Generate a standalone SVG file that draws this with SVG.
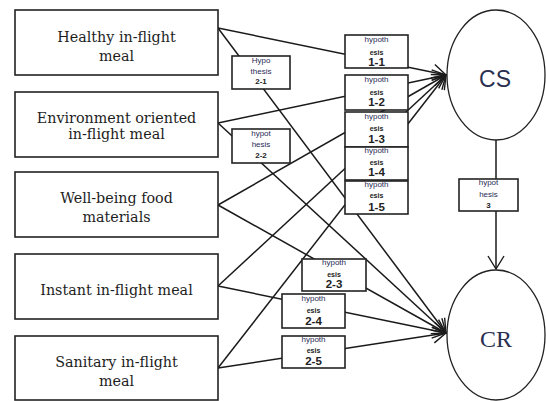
<svg xmlns="http://www.w3.org/2000/svg" width="546" height="401" viewBox="0 0 546 401">
<style>
.box{fill:#fff;stroke:#222;stroke-width:1.6}
.hb{fill:#fff;stroke:#222;stroke-width:1.6}
.lbl{font-family:"DejaVu Serif","Liberation Serif",serif;font-size:14.3px;fill:#1e1e1e;text-anchor:middle}
.s1{font-family:"Liberation Sans",Arial,sans-serif;font-size:8px;fill:#2a2a55;text-anchor:middle}
.s2{font-family:"Liberation Sans",Arial,sans-serif;font-size:7px;font-weight:bold;fill:#222;text-anchor:middle}
.s3{font-family:"Liberation Sans",Arial,sans-serif;font-size:11.5px;font-weight:bold;fill:#222;text-anchor:middle}
.s4{font-family:"Liberation Sans",Arial,sans-serif;font-size:8px;font-weight:bold;fill:#222;text-anchor:middle}
.conn line{stroke:#1a1a1a;stroke-width:1.5;fill:none;marker-end:url(#arr)}
.ell{fill:#fff;stroke:#222;stroke-width:1.3}
</style>
<defs>
<marker id="arr" markerUnits="userSpaceOnUse" markerWidth="20" markerHeight="22" viewBox="-1 -11 16 22" refX="13" refY="0" orient="auto">
<path d="M0,-8 L13,0 L0,8" fill="none" stroke="#1a1a1a" stroke-width="1.4"/>
</marker>
</defs>
<rect width="546" height="401" fill="#fff"/>
<g id="connectors" class="conn">
<line x1="218" y1="28" x2="446" y2="75"/>
<line x1="218" y1="28" x2="446" y2="333"/>
<line x1="218" y1="123" x2="446" y2="75"/>
<line x1="218" y1="123" x2="446" y2="333"/>
<line x1="218" y1="205" x2="446" y2="75"/>
<line x1="218" y1="205" x2="446" y2="333"/>
<line x1="218" y1="286" x2="446" y2="75"/>
<line x1="218" y1="286" x2="446" y2="333"/>
<line x1="218" y1="368" x2="446" y2="75"/>
<line x1="218" y1="368" x2="446" y2="333"/>
<line x1="496" y1="140" x2="496" y2="269"/>
</g>
<g id="healthy">
<rect class="box" x="15" y="10" width="203" height="65"/>
<text class="lbl" x="116.5" y="42">Healthy in-flight</text>
<text class="lbl" x="116.5" y="61">meal</text>
</g>
<g id="environment">
<rect class="box" x="15" y="92" width="203" height="65"/>
<text class="lbl" x="116.5" y="123">Environment oriented</text>
<text class="lbl" x="116.5" y="139">in-flight meal</text>
</g>
<g id="wellbeing">
<rect class="box" x="15" y="172" width="203" height="65"/>
<text class="lbl" x="116.5" y="203">Well-being food</text>
<text class="lbl" x="116.5" y="222">materials</text>
</g>
<g id="instant">
<rect class="box" x="15" y="254" width="203" height="65"/>
<text class="lbl" x="116.5" y="295">Instant in-flight meal</text>
</g>
<g id="sanitary">
<rect class="box" x="15" y="336" width="203" height="64"/>
<text class="lbl" x="116.5" y="367">Sanitary in-flight</text>
<text class="lbl" x="116.5" y="386">meal</text>
</g>
<g id="cs">
<ellipse class="ell" cx="496" cy="75" rx="49" ry="65"/>
<text x="495" y="87" font-family="Liberation Sans, Arial, sans-serif" font-size="23" fill="#2a3050" text-anchor="middle">CS</text>
</g>
<g id="cr">
<ellipse class="ell" cx="496" cy="335" rx="49" ry="65"/>
<text x="496" y="347" font-family="Liberation Serif, Times New Roman, serif" font-size="24" fill="#2a3050" text-anchor="middle">CR</text>
</g>
<g id="h2-1">
<rect class="hb" x="232" y="56" width="58" height="33"/>
<text class="s1" x="261" y="63">Hypo</text>
<text class="s1" x="261" y="74">thesis</text>
<text class="s4" x="261" y="84">2-1</text>
</g>
<g id="h2-2">
<rect class="hb" x="232" y="129" width="58" height="34"/>
<text class="s1" x="261" y="136">hypot</text>
<text class="s1" x="261" y="147">hesis</text>
<text class="s4" x="261" y="158">2-2</text>
</g>
<g id="h1-1">
<rect class="hb" x="345" y="35" width="63" height="33"/>
<text class="s1" x="376.5" y="42">hypoth</text>
<text class="s2" x="376.5" y="55">esis</text>
<text class="s3" x="376.5" y="66">1-1</text>
</g>
<g id="h1-2">
<rect class="hb" x="345" y="75" width="63" height="35"/>
<text class="s1" x="376.5" y="82">hypoth</text>
<text class="s2" x="376.5" y="95">esis</text>
<text class="s3" x="376.5" y="106">1-2</text>
</g>
<g id="h1-3">
<rect class="hb" x="345" y="112" width="63" height="35"/>
<text class="s1" x="376.5" y="119">hypoth</text>
<text class="s2" x="376.5" y="131">esis</text>
<text class="s3" x="376.5" y="143">1-3</text>
</g>
<g id="h1-4">
<rect class="hb" x="345" y="147" width="63" height="33"/>
<text class="s1" x="376.5" y="153">hypoth</text>
<text class="s2" x="376.5" y="165">esis</text>
<text class="s3" x="376.5" y="176">1-4</text>
</g>
<g id="h1-5">
<rect class="hb" x="345" y="181" width="63" height="33"/>
<text class="s1" x="376.5" y="187">hypoth</text>
<text class="s2" x="376.5" y="198">esis</text>
<text class="s3" x="376.5" y="211">1-5</text>
</g>
<g id="h2-3">
<rect class="hb" x="302" y="259" width="64" height="32"/>
<text class="s1" x="334" y="265">hypoth</text>
<text class="s2" x="334" y="277">esis</text>
<text class="s3" x="334" y="288">2-3</text>
</g>
<g id="h2-4">
<rect class="hb" x="282" y="294" width="63" height="34"/>
<text class="s1" x="313.5" y="301">hypoth</text>
<text class="s2" x="313.5" y="313">esis</text>
<text class="s3" x="313.5" y="325">2-4</text>
</g>
<g id="h2-5">
<rect class="hb" x="282" y="336" width="63" height="32"/>
<text class="s1" x="313.5" y="342">hypoth</text>
<text class="s2" x="313.5" y="353">esis</text>
<text class="s3" x="313.5" y="365">2-5</text>
</g>
<g id="h3">
<rect class="hb" x="459" y="179" width="59" height="32"/>
<text class="s1" x="488.5" y="185">hypot</text>
<text class="s1" x="488.5" y="197">hesis</text>
<text class="s4" x="488.5" y="208">3</text>
</g>
</svg>
